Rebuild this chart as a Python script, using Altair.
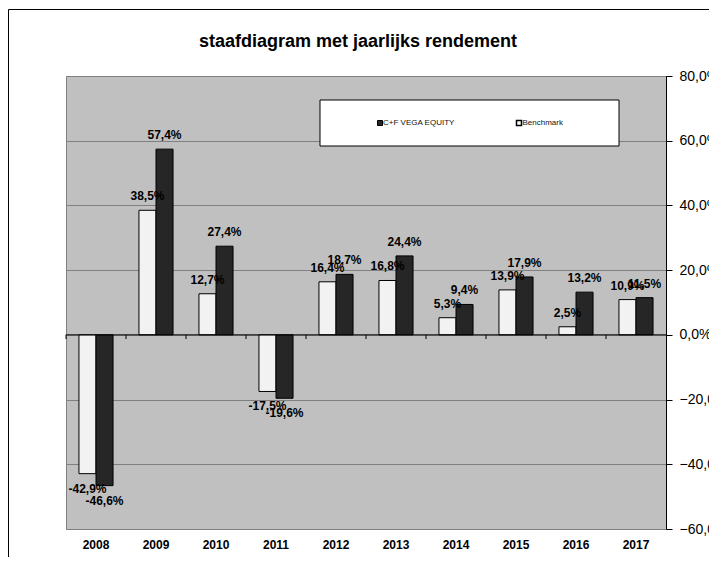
import altair as alt
import pandas as pd

years = ["2008", "2009", "2010", "2011", "2012", "2013", "2014", "2015", "2016", "2017"]
fund_name = "C+F VEGA EQUITY"
bench_name = "Benchmark"
fund = [-46.6, 57.4, 27.4, -19.6, 18.7, 24.4, 9.4, 17.9, 13.2, 11.5]
bench = [-42.9, 38.5, 12.7, -17.5, 16.4, 16.8, 5.3, 13.9, 2.5, 10.9]
y_ticks = [-60, -40, -20, 0, 20, 40, 60, 80]
title = "staafdiagram met jaarlijks rendement"

rows = []
for i, y in enumerate(years):
    rows.append({"year": y, "series": bench_name, "value": bench[i]})
    rows.append({"year": y, "series": fund_name, "value": fund[i]})
df = pd.DataFrame(rows)
df["label"] = df["value"].map(lambda v: f"{v:.1f}".replace(".", ",") + "%")

FONT = "Liberation Sans"
W, H = 600, 453

x_axis = alt.Axis(title=None, labelAngle=0, labelFontWeight="bold", labelFontSize=12,
                  labelFont=FONT, labelColor="black", ticks=False, domain=False,
                  labelPadding=10, grid=False)
x_scale = alt.Scale(paddingInner=0, paddingOuter=0)


def xenc(**kw):
    return alt.X("year:N", sort=years, scale=x_scale, axis=x_axis, **kw)


xo = alt.XOffset("series:N", sort=[bench_name, fund_name],
                 scale=alt.Scale(domain=[bench_name, fund_name], paddingOuter=0.76, paddingInner=0))
ys = alt.Y("value:Q", scale=alt.Scale(domain=[-60, 80], nice=False, zero=False),
           axis=alt.Axis(orient="right", title=None, values=y_ticks, grid=True,
                         gridColor="#808080", gridWidth=1, domainColor="black",
                         tickColor="black", tickSize=6, labelFont=FONT, labelFontSize=14,
                         labelColor="black", labelPadding=7,
                         labelExpr="replace(format(datum.value, '.1f'), '.', ',') + '%'"))

one = pd.DataFrame({"a": [0]})

border = alt.Chart(one).mark_rect(fill=None, stroke="black", strokeWidth=1).encode(
    x=alt.value(-57.5), x2=alt.value(700), y=alt.value(-66.5), y2=alt.value(520))

title_mark = alt.Chart(one).mark_text(font=FONT, fontSize=18, fontWeight="bold", color="black",
                                      align="center", baseline="middle", text=title).encode(
    x=alt.value(W / 2 - 8), y=alt.value(-34))

bars = alt.Chart(df).mark_bar(stroke="black", strokeWidth=1).encode(
    x=xenc(), xOffset=xo, y=ys,
    color=alt.Color("series:N", scale=alt.Scale(domain=[bench_name, fund_name],
                                                range=["#f2f2f2", "#262626"]), legend=None))

zero = alt.Chart(one).mark_rule(color="black", strokeWidth=1).encode(y=alt.datum(0))

ticks = alt.Chart(pd.DataFrame({"year": years})).mark_rule(color="black").encode(
    x=xenc(bandPosition=0), y=alt.datum(0), y2=alt.datum(-1.3))

lab_pos = alt.Chart(df).transform_filter("datum.value >= 0").mark_text(
    font=FONT, fontSize=12, fontWeight="bold", color="black", baseline="middle", dy=-14
).encode(x=xenc(), xOffset=xo, y="value:Q", text="label:N")

lab_neg = alt.Chart(df).transform_filter("datum.value < 0").mark_text(
    font=FONT, fontSize=12, fontWeight="bold", color="black", baseline="middle", dy=15
).encode(x=xenc(), xOffset=xo, y="value:Q", text="label:N")

leg_box = alt.Chart(one).mark_rect(fill="white", stroke="black", strokeWidth=1).encode(
    x=alt.value(254), x2=alt.value(553), y=alt.value(24), y2=alt.value(70))
leg_sw1 = alt.Chart(one).mark_rect(fill="#262626", stroke="black", strokeWidth=1).encode(
    x=alt.value(311.5), x2=alt.value(316.5), y=alt.value(44.5), y2=alt.value(49.5))
leg_sw2 = alt.Chart(one).mark_rect(fill="white", stroke="black", strokeWidth=1.5).encode(
    x=alt.value(450.5), x2=alt.value(455.5), y=alt.value(44.5), y2=alt.value(49.5))
leg_t1 = alt.Chart(one).mark_text(font=FONT, fontSize=8, align="left", baseline="middle",
                                  color="#111111", text=fund_name).encode(
    x=alt.value(317), y=alt.value(47))
leg_t2 = alt.Chart(one).mark_text(font=FONT, fontSize=8, align="left", baseline="middle",
                                  color="#111111", text=bench_name).encode(
    x=alt.value(456.5), y=alt.value(47))

chart = alt.layer(border, title_mark, bars, zero, ticks, lab_pos, lab_neg,
                  leg_box, leg_sw1, leg_sw2, leg_t1, leg_t2).properties(
    width=W, height=H,
    autosize=alt.AutoSizeParams(type="none"),
    padding={"left": 58, "top": 68, "right": 43, "bottom": 28},
    background="white",
).configure_view(fill="#c0c0c0", stroke="#808080", strokeWidth=1)

chart.save("out.html", embed_options={"renderer": "svg", "actions": False})
